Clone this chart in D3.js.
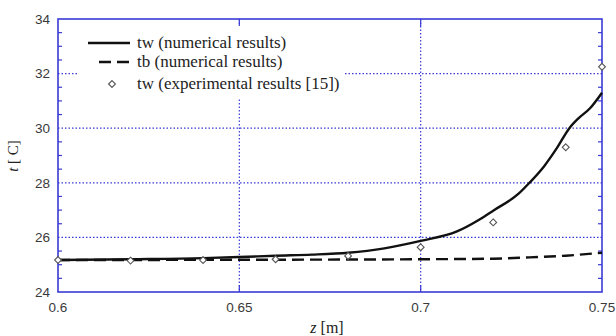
<!DOCTYPE html>
<html>
<head>
<meta charset="utf-8">
<script src="https://cdn.jsdelivr.net/npm/d3@7"></script>
<style>
  body { margin: 0; background: #fff; }
  svg { display: block; }
</style>
</head>
<body>
<div id="chart"></div>
<script>
// numerical tw curve
const twZ = [0.60, 0.62, 0.64, 0.65, 0.66, 0.67, 0.68, 0.69, 0.70, 0.71, 0.716, 0.72, 0.727, 0.73, 0.734, 0.7375, 0.741, 0.7435, 0.7467, 0.75];
const twT = [25.17, 25.2, 25.24, 25.28, 25.33, 25.37, 25.44, 25.6, 25.87, 26.22, 26.64, 26.98, 27.6, 28.0, 28.6, 29.26, 30.0, 30.36, 30.73, 31.3];
// numerical tb curve
const tbZ = [0.60, 0.65, 0.70, 0.72, 0.73, 0.74, 0.75];
const tbT = [25.17, 25.18, 25.2, 25.22, 25.27, 25.33, 25.44];
// experimental tw
const expZ = [0.60, 0.62, 0.64, 0.66, 0.68, 0.70, 0.72, 0.74, 0.75];
const expT = [25.17, 25.15, 25.17, 25.2, 25.32, 25.64, 26.55, 29.3, 32.25];

const xTicks = [0.6, 0.65, 0.7, 0.75];
const yTicks = [24, 26, 28, 30, 32, 34];
const legendLabels = ["tw (numerical results)", "tb (numerical results)", "tw (experimental results [15])"];

const W = 616, H = 336;
const m = {top: 19, right: 14, bottom: 44, left: 58};
const blue = "#3a3ad6";

const x = d3.scaleLinear().domain([0.6, 0.75]).range([m.left, W - m.right]);
const y = d3.scaleLinear().domain([24, 34]).range([H - m.bottom, m.top]);

const svg = d3.select("#chart").append("svg")
  .attr("width", W).attr("height", H);

// grid
const grid = svg.append("g")
  .attr("stroke", blue).attr("stroke-width", 1.2)
  .attr("stroke-dasharray", "1.5,2");
grid.selectAll("line.gy").data(yTicks.slice(1, -1)).join("line")
  .attr("x1", m.left).attr("x2", W - m.right)
  .attr("y1", d => y(d)).attr("y2", d => y(d));
grid.selectAll("line.gx").data(xTicks.slice(1, -1)).join("line")
  .attr("y1", m.top).attr("y2", H - m.bottom)
  .attr("x1", d => x(d)).attr("x2", d => x(d));

// legend background covers the grid
svg.append("rect")
  .attr("x", 79).attr("y", 26).attr("width", 266).attr("height", 73)
  .attr("fill", "#fff");

// minor ticks on left/right
const minor = d3.range(24.5, 34, 0.5).filter(v => v % 2 !== 0);
const tk = svg.append("g").attr("stroke", blue).attr("stroke-width", 1.2);
tk.selectAll("line.l").data(minor).join("line")
  .attr("x1", m.left).attr("x2", m.left + 4)
  .attr("y1", d => y(d)).attr("y2", d => y(d));
tk.selectAll("line.r").data(minor).join("line")
  .attr("x1", W - m.right).attr("x2", W - m.right - 4)
  .attr("y1", d => y(d)).attr("y2", d => y(d));
tk.selectAll("line.t").data(xTicks.slice(1, -1)).join("line")
  .attr("x1", d => x(d)).attr("x2", d => x(d))
  .attr("y1", m.top).attr("y2", m.top + 7);
tk.selectAll("line.b").data(xTicks.slice(1, -1)).join("line")
  .attr("x1", d => x(d)).attr("x2", d => x(d))
  .attr("y1", H - m.bottom).attr("y2", H - m.bottom - 7);

// frame
svg.append("rect")
  .attr("x", m.left).attr("y", m.top)
  .attr("width", W - m.left - m.right).attr("height", H - m.top - m.bottom)
  .attr("fill", "none").attr("stroke", blue).attr("stroke-width", 1.6);

// tick labels
svg.append("g").selectAll("text").data(yTicks).join("text")
  .attr("x", m.left - 8).attr("y", d => y(d)).attr("dy", "0.35em")
  .attr("text-anchor", "end")
  .attr("font-family", "Arial, 'Liberation Sans', sans-serif")
  .attr("font-size", 13.5).attr("fill", "#3a3a3a")
  .text(d => d);
svg.append("g").selectAll("text").data(xTicks).join("text")
  .attr("x", d => x(d)).attr("y", H - m.bottom + 20)
  .attr("text-anchor", "middle")
  .attr("font-family", "Arial, 'Liberation Sans', sans-serif")
  .attr("font-size", 13.5).attr("fill", "#3a3a3a")
  .text(d => d);

// axis titles
const xl = svg.append("text")
  .attr("x", 327).attr("y", 333).attr("text-anchor", "middle")
  .attr("font-family", "'Times New Roman', 'Liberation Serif', serif")
  .attr("font-size", 16).attr("fill", "#222");
xl.append("tspan").attr("font-style", "italic").text("z");
xl.append("tspan").text(" [m]");

const yl = svg.append("text")
  .attr("transform", "translate(18,156) rotate(-90)")
  .attr("text-anchor", "middle")
  .attr("font-family", "'Times New Roman', 'Liberation Serif', serif")
  .attr("font-size", 15).attr("fill", "#222");
yl.append("tspan").attr("font-style", "italic").text("t");
yl.append("tspan").text(" [ C]");

// curves
const line = d3.line().curve(d3.curveMonotoneX);
const twPts = twZ.map((z, i) => [x(z), y(twT[i])]);
const tbPts = tbZ.map((z, i) => [x(z), y(tbT[i])]);

svg.append("path").attr("d", line(tbPts))
  .attr("fill", "none").attr("stroke", "#111").attr("stroke-width", 2.4)
  .attr("stroke-dasharray", "12,6");
svg.append("path").attr("d", line(twPts))
  .attr("fill", "none").attr("stroke", "#111").attr("stroke-width", 2.4);

const diamond = d3.symbol().type(d3.symbolDiamond2).size(30);
svg.append("g").selectAll("path").data(expZ).join("path")
  .attr("transform", (d, i) => `translate(${x(d)},${y(expT[i])})`)
  .attr("d", diamond)
  .attr("fill", "#fff").attr("stroke", "#555").attr("stroke-width", 1.1);

// legend
const lg = svg.append("g")
  .attr("font-family", "'Times New Roman', 'Liberation Serif', serif")
  .attr("font-size", 17).attr("fill", "#222");
const rowY = [43, 62, 84];
lg.append("line").attr("x1", 88).attr("x2", 130).attr("y1", rowY[0]).attr("y2", rowY[0])
  .attr("stroke", "#111").attr("stroke-width", 2.4);
lg.append("line").attr("x1", 99).attr("x2", 133).attr("y1", rowY[1]).attr("y2", rowY[1])
  .attr("stroke", "#111").attr("stroke-width", 2.4).attr("stroke-dasharray", "12,6");
lg.append("path").attr("transform", `translate(112,${rowY[2]})`).attr("d", diamond)
  .attr("fill", "#fff").attr("stroke", "#555").attr("stroke-width", 1.1);
lg.selectAll("text").data(legendLabels).join("text")
  .attr("x", (d, i) => i === 0 ? 137 : 137)
  .attr("y", (d, i) => rowY[i]).attr("dy", "0.32em")
  .text(d => d);
</script>
</body>
</html>
